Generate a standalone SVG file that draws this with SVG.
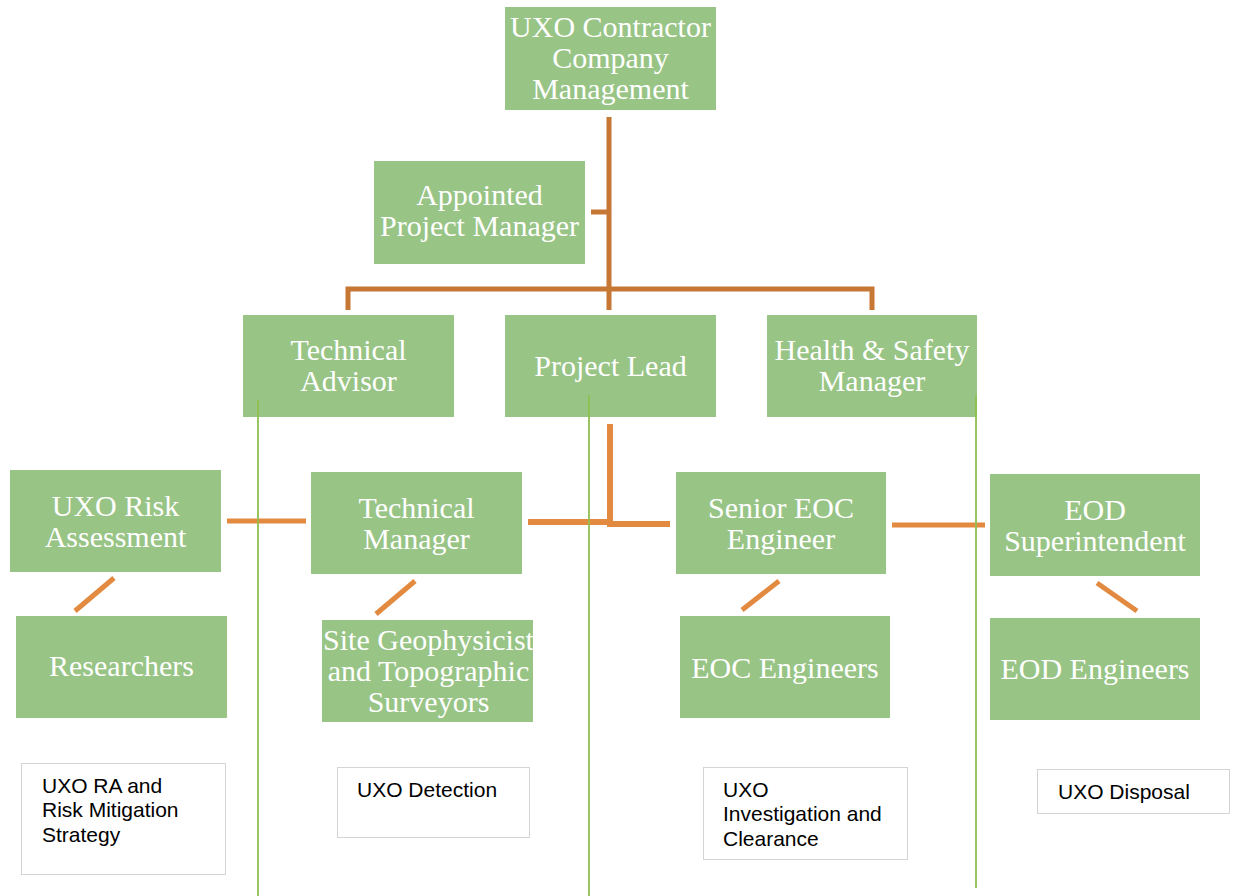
<svg xmlns="http://www.w3.org/2000/svg" width="1233" height="896" viewBox="0 0 1233 896">
<style>
.box{fill:#98c486;}
.t{font-family:"Liberation Serif",serif;font-size:30px;fill:#ffffff;text-anchor:middle;}
.note{fill:#ffffff;stroke:#d4d4d4;stroke-width:1;}
.nt{font-family:"Liberation Sans",Arial,sans-serif;font-size:21px;fill:#000000;}
.c1{stroke:#c77734;stroke-width:5;fill:none;}
.c2{stroke:#e38a41;stroke-width:5;fill:none;}
.c3{stroke:#e38a41;stroke-width:6;fill:none;}
.g{stroke:#8fbf4f;stroke-width:1.8;fill:none;}
</style>
<rect width="1233" height="896" fill="#ffffff"/>

<g id="n-top"><rect class="box" x="505" y="7" width="211" height="103"/>
<text class="t" x="610.5" y="37">UXO Contractor</text><text class="t" x="610.5" y="68">Company</text><text class="t" x="610.5" y="99">Management</text></g>
<g id="n-apm"><rect class="box" x="374" y="161" width="211" height="103"/>
<text class="t" x="479.5" y="205">Appointed</text><text class="t" x="479.5" y="236">Project Manager</text></g>
<g id="n-ta"><rect class="box" x="243" y="315" width="211" height="102"/>
<text class="t" x="348.5" y="360">Technical</text><text class="t" x="348.5" y="391">Advisor</text></g>
<g id="n-pl"><rect class="box" x="505" y="315" width="211" height="102"/>
<text class="t" x="610.5" y="376">Project Lead</text></g>
<g id="n-hs"><rect class="box" x="767" y="315" width="210" height="102"/>
<text class="t" x="872" y="360">Health &amp; Safety</text><text class="t" x="872" y="391">Manager</text></g>

<g id="n-ura"><rect class="box" x="10" y="470" width="211" height="102"/>
<text class="t" x="115.5" y="516">UXO Risk</text><text class="t" x="115.5" y="547">Assessment</text></g>
<g id="n-res"><rect class="box" x="16" y="616" width="211" height="102"/>
<text class="t" x="121.5" y="676">Researchers</text></g>
<g id="n-tm"><rect class="box" x="311" y="472" width="211" height="102"/>
<text class="t" x="416.5" y="518">Technical</text><text class="t" x="416.5" y="549">Manager</text></g>
<g id="n-sg"><rect class="box" x="322" y="620" width="211" height="102"/>
<text class="t" x="428.5" y="650">Site Geophysicist</text><text class="t" x="428.5" y="681">and Topographic</text><text class="t" x="428.5" y="712">Surveyors</text></g>
<g id="n-se"><rect class="box" x="676" y="472" width="210" height="102"/>
<text class="t" x="781" y="518">Senior EOC</text><text class="t" x="781" y="549">Engineer</text></g>
<g id="n-ee"><rect class="box" x="680" y="616" width="210" height="102"/>
<text class="t" x="785" y="678">EOC Engineers</text></g>
<g id="n-es"><rect class="box" x="990" y="474" width="210" height="102"/>
<text class="t" x="1095" y="520">EOD</text><text class="t" x="1095" y="551">Superintendent</text></g>
<g id="n-ed"><rect class="box" x="990" y="618" width="210" height="102"/>
<text class="t" x="1095" y="679">EOD Engineers</text></g>

<g id="n-b1"><rect class="note" x="21.5" y="763.5" width="204" height="111"/>
<text class="nt" x="42" y="793">UXO RA and</text><text class="nt" x="42" y="817">Risk Mitigation</text><text class="nt" x="42" y="842">Strategy</text></g>
<g id="n-b2"><rect class="note" x="337.5" y="767.5" width="192" height="70"/>
<text class="nt" x="357" y="797">UXO Detection</text></g>
<g id="n-b3"><rect class="note" x="703.5" y="767.5" width="204" height="92"/>
<text class="nt" x="723" y="797">UXO</text><text class="nt" x="723" y="821">Investigation and</text><text class="nt" x="723" y="846">Clearance</text></g>
<g id="n-b4"><rect class="note" x="1037.5" y="769.5" width="192" height="44"/>
<text class="nt" x="1058" y="799">UXO Disposal</text></g>

<g id="connectors">
<path class="c1" d="M609 117 V310"/>
<path class="c1" d="M591 212 H609"/>
<path class="c1" d="M348 310 V289 H872 V310"/>
<path class="c2" d="M227 521 H306"/>
<path class="c3" d="M528 522 H610"/>
<path class="c3" d="M610 424 V524 H670"/>
<path class="c2" d="M892 525 H985"/>
<path class="c2" d="M114 578 L75 611"/>
<path class="c2" d="M415 581 L376 614"/>
<path class="c2" d="M779 581 L742 610"/>
<path class="c2" d="M1097 583 L1137 611"/>
<path class="g" d="M258 400 V896"/>
<path class="g" d="M589 395 V896"/>
<path class="g" d="M976 395 V888"/>
</g>
</svg>
